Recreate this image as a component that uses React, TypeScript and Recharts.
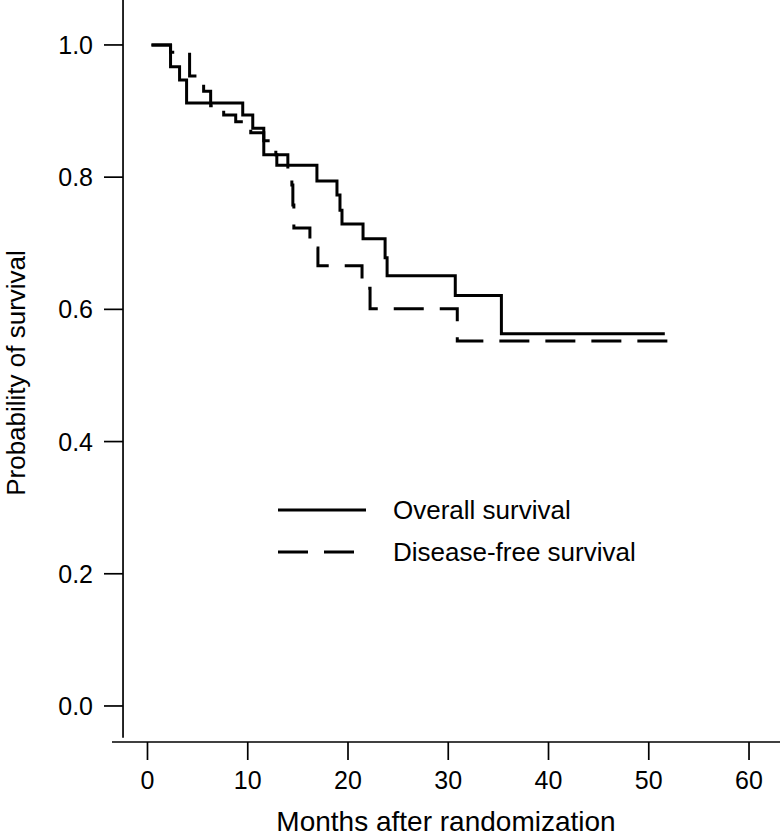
import { LineChart, Line, XAxis, YAxis, ReferenceLine, Legend } from 'recharts';

// Kaplan-Meier steps
const osMonths = [0.4, 2.3, 3.2, 3.9, 9.5, 10.5, 11.6, 12.9, 16.9, 18.9, 19.2, 19.4, 21.5, 23.7, 23.9, 30.7, 35.3, 51.6];
const osProb = [1.0, 0.967, 0.947, 0.912, 0.894, 0.874, 0.834, 0.818, 0.794, 0.773, 0.75, 0.729, 0.707, 0.678, 0.651, 0.621, 0.563, 0.563];

const dfsMonths = [0.4, 2.3, 4.2, 5.6, 6.3, 7.6, 8.8, 10.3, 11.6, 12.8, 14.0, 14.4, 14.5, 14.6, 16.2, 17.0, 21.4, 22.2, 30.9, 53.1];
const dfsProb = [1.0, 0.989, 0.953, 0.93, 0.908, 0.894, 0.884, 0.867, 0.855, 0.834, 0.811, 0.788, 0.758, 0.723, 0.693, 0.666, 0.632, 0.601, 0.552, 0.552];

const xTicks = [0, 10, 20, 30, 40, 50, 60];
const yTicks = [0, 0.2, 0.4, 0.6, 0.8, 1.0];

const osData = osMonths.map((x, i) => ({ x, y: osProb[i] }));
const dfsData = dfsMonths.map((x, i) => ({ x, y: dfsProb[i] }));

const FONT = '"Liberation Sans", Arial, Helvetica, sans-serif';
const DASH = '30 16';

const YTick = (props: any) => {
  const { x, y, payload } = props;
  return (
    <g>
      <line x1={x + 11} x2={x - 8} y1={y} y2={y} stroke="#000" strokeWidth={1.7} />
      <text x={x - 19} y={y} textAnchor="end" dominantBaseline="central" fontSize={25} fontFamily={FONT} fill="#000">
        {Number(payload.value).toFixed(1)}
      </text>
    </g>
  );
};

const YLabel = (props: any) => {
  const vb = props.viewBox || { y: 0, height: 742 };
  const cy = vb.y + vb.height / 2 + 2;
  const x = 25;
  return (
    <text x={x} y={cy} transform={`rotate(-90 ${x} ${cy})`} textAnchor="middle" fontSize={26} fontFamily={FONT} fill="#000">
      Probability of survival
    </text>
  );
};

const LegendBox = () => (
  <div style={{ fontFamily: FONT, fontSize: 26, color: '#000' }}>
    {[
      { label: 'Overall survival', dash: undefined },
      { label: 'Disease-free survival', dash: DASH },
    ].map((row) => (
      <div key={row.label} style={{ display: 'flex', alignItems: 'center', height: 42 }}>
        <svg width={88} height={6} style={{ display: 'block' }}>
          <line x1={0} x2={88} y1={3} y2={3} stroke="#000" strokeWidth={3} strokeDasharray={row.dash} />
        </svg>
        <span style={{ marginLeft: 27, whiteSpace: 'nowrap' }}>{row.label}</span>
      </div>
    ))}
  </div>
);

export default function App() {
  return (
    <div style={{ position: 'absolute', left: 0, top: 0, background: '#fff' }}>
      <LineChart width={783} height={837} margin={{ top: 0, right: 3, bottom: 0, left: 0 }}>
        <XAxis
          dataKey="x"
          type="number"
          domain={[-3.54, 63.09]}
          allowDataOverflow
          ticks={xTicks}
          tickSize={18}
          tickMargin={11}
          height={95}
          stroke="#000"
          strokeWidth={1.7}
          tick={{ fontSize: 25, fontFamily: FONT, fill: '#000' }}
          label={{ value: 'Months after randomization', position: 'insideBottom', offset: 6, fontSize: 28, fontFamily: FONT, fill: '#000' }}
        />
        <YAxis
          dataKey="y"
          type="number"
          domain={[-0.0545, 1.068]}
          allowDataOverflow
          ticks={yTicks}
          width={112}
          axisLine={false}
          tickLine={false}
          tickSize={0}
          tickMargin={0}
          tick={<YTick />}
          label={<YLabel />}
        />
        <ReferenceLine
          segment={[{ x: -2.44, y: 1.068 }, { x: -2.44, y: -0.048 }]}
          stroke="#000"
          strokeWidth={1.7}
          ifOverflow="visible"
        />
        <Legend
          layout="horizontal"
          verticalAlign="middle"
          align="center"
          content={<LegendBox />}
          wrapperStyle={{ left: 278, top: 489, width: 'auto' }}
        />
        <Line
          data={osData}
          dataKey="y"
          name="Overall survival"
          type="stepAfter"
          stroke="#000"
          strokeWidth={3}
          dot={false}
          isAnimationActive={false}
        />
        <Line
          data={dfsData}
          dataKey="y"
          name="Disease-free survival"
          type="stepAfter"
          stroke="#000"
          strokeWidth={3}
          strokeDasharray={DASH}
          dot={false}
          isAnimationActive={false}
        />
      </LineChart>
    </div>
  );
}
